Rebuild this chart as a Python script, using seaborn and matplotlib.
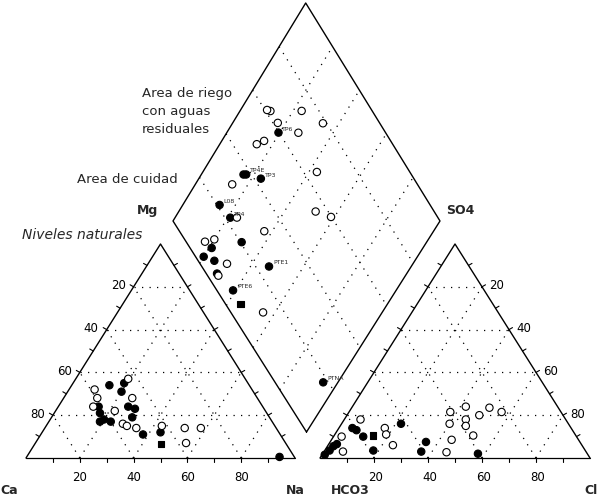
import numpy as np
import pandas as pd
import matplotlib
matplotlib.use("Agg")
import matplotlib.pyplot as plt
import seaborn as sns

# ==========================================
# DATA (percentages)
# ==========================================

# cation triangle: Na %, Mg %
cat_kind = ["filled"] * 14 + ["square"] + ["open"] * 13
cat_na = [14, 19, 20, 26, 29, 30, 17, 19, 20, 23, 38, 44, 94, 15,
          47,
          9.5, 19.5, 25.5, 22, 28, 30, 34, 13, 12.5, 52, 58, 56, 43]
cat_mg = [34, 35, 31, 24, 23, 19, 21, 17, 18, 17, 11, 12, 0.5, 24,
          6.5,
          32, 37, 28, 22, 16, 15, 14, 24, 28, 14, 14, 7, 15]

# anion triangle: Cl %, SO4 %
ani_kind = ["filled"] * 12 + ["square"] + ["open"] * 17
ani_cl = [5, 7, 11, 22, 18, 35.5, 36, 57.5, 1, 1.8, 2.2, 3,
          14.5,
          6, 3, 7, 17, 19, 24, 37.5, 42, 45, 46.5, 49, 51, 56.5, 40, 44.5, 51.5, 45.5]
ani_so4 = [14, 13, 10, 16, 3.5, 7.5, 3, 2, 1.5, 3.5, 5.5, 6.5,
           10.4,
           18, 10, 3, 14, 11, 6, 21.5, 24, 18, 15, 20, 23.5, 21.5, 16, 8.5, 10.5, 2.7]

# diamond: Na %, SO4+Cl %
dia_kind = ["filled"] * 14 + ["square"] + ["open"] * 19
dia_na = [19.5, 16, 17, 23.5, 14, 21, 31, 21, 20, 25, 29, 47, 39, 94.5,
          45,
          11.5, 10, 23.2, 17, 27, 34, 16, 14, 43, 14, 23.5, 51.7, 58.7, 37, 17, 20, 30.5, 30, 55.5]
dia_an = [59.8, 37, 38, 42.5, 21, 22, 20.5, 8, 3, 6, 4, 25, 6, 18,
          5.5,
          61.8, 60.8, 73.5, 61.8, 67.2, 78.6, 52.5, 49, 65, 30.5, 24.5, 55.3, 59.8, 31.5, 7, 11, 10, 4, 12]
dia_lab = ["TP6", "", "TP4E", "TP3", "L08", "TP4", "", "", "", "", "", "PTE1", "PTE6", "PTNA",
           ""] + [""] * 19

ticks = [20, 40, 60, 80]

# ==========================================
# GEOMETRY (pixel frame of the page)
# ==========================================

CA, NA, MG = np.array([26, 459]), np.array([295, 459]), np.array([160.5, 245])
HC, CL, SO = np.array([320, 459]), np.array([590, 459]), np.array([455, 245])
DB, DL, DR, DT = (np.array([306.5, 433]), np.array([173, 222]),
                  np.array([440, 222]), np.array([305.7, 4]))


def tri(c0, c1, c2, p1, p2):
    p1 = np.asarray(p1, float) / 100
    p2 = np.asarray(p2, float) / 100
    pts = c0 + np.outer(p1, c1 - c0) + np.outer(p2, c2 - c0)
    return pts[:, 0], pts[:, 1]


def dia(na, an):
    a = 1 - np.asarray(na, float) / 100
    b = np.asarray(an, float) / 100
    pts = (np.outer((1 - a) * (1 - b), DB) + np.outer(a * (1 - b), DL)
           + np.outer((1 - a) * b, DR) + np.outer(a * b, DT))
    return pts[:, 0], pts[:, 1]


sns.set_theme(style="white")
plt.rcParams["font.family"] = ["DejaVu Sans"]

fig = plt.figure(figsize=(6.05, 5.02), dpi=100)
ax = fig.add_axes([0, 0, 1, 1])
ax.set_xlim(0, 605)
ax.set_ylim(502, 0)
ax.axis("off")

dot = dict(color="black", lw=0.9, ls=(0, (1, 5)), zorder=1)
solid = dict(color="black", lw=1.0, zorder=2)

# outlines
for c0, c1, c2 in [(CA, NA, MG), (HC, CL, SO)]:
    ax.plot([c0[0], c2[0], c1[0]], [c0[1], c2[1], c1[1]], **solid)
    ax.plot([c0[0], c1[0]], [c0[1], c1[1]], color="black", lw=0.9, zorder=2)
    for k in ticks:
        x, y = tri(c0, c1, c2, [k, k], [0, 100 - k])
        ax.plot(x, y, **dot)
        x, y = tri(c0, c1, c2, [0, 100 - k], [k, k])
        ax.plot(x, y, **dot)
        x, y = tri(c0, c1, c2, [100 - k, 0], [0, 100 - k])
        ax.plot(x, y, **dot)
    # small ticks every 10 %
    for k in range(10, 100, 10):
        for p, q, d in [([k], [0], (0, 4)),
                        ([0], [k], (-3.5, -2)),
                        ([100 - k], [k], (3.5, -2))]:
            x, y = tri(c0, c1, c2, p, q)
            ax.plot([x[0], x[0] + d[0]], [y[0], y[0] + d[1]], color="black", lw=0.8)

ax.plot([DB[0], DL[0], DT[0], DR[0], DB[0]], [DB[1], DL[1], DT[1], DR[1], DB[1]], **solid)
for k in ticks:
    x, y = dia([100 - k, 100 - k], [0, 100])
    ax.plot(x, y, **dot)
    x, y = dia([0, 100], [k, k])
    ax.plot(x, y, **dot)

# ==========================================
# POINTS
# ==========================================

x1, y1 = tri(CA, NA, MG, cat_na, cat_mg)
x2, y2 = tri(HC, CL, SO, ani_cl, ani_so4)
x3, y3 = dia(dia_na, dia_an)
pts = pd.concat([
    pd.DataFrame({"x": x1, "y": y1, "kind": cat_kind}),
    pd.DataFrame({"x": x2, "y": y2, "kind": ani_kind}),
    pd.DataFrame({"x": x3, "y": y3, "kind": dia_kind}),
], ignore_index=True)

pal = {"filled": "black", "open": "white", "square": "black"}
mk = {"filled": "o", "open": "o", "square": "s"}
sz = {"filled": 28, "open": 28, "square": 22}
sns.scatterplot(data=pts, x="x", y="y", hue="kind", style="kind", size="kind",
                palette=pal, markers=mk, sizes=sz, edgecolor="black",
                linewidth=0.8, legend=False, ax=ax, zorder=3)

for xx, yy, lab in zip(x3, y3, dia_lab):
    if lab:
        ax.text(xx + 4, yy - 2, lab, fontsize=4.5, ha="left", va="bottom")

# ==========================================
# TEXT
# ==========================================

tk = dict(fontsize=8.5, color="black")
for k in ticks:
    x, y = tri(CA, NA, MG, [k], [0])
    ax.text(x[0], 478, str(k), ha="center", va="center", **tk)
    x, y = tri(HC, CL, SO, [k], [0])
    ax.text(x[0] + 2, 478, str(k), ha="center", va="center", **tk)
    x, y = tri(CA, NA, MG, [0], [100 - k])
    ax.text(x[0] - 8, y[0] - 2, str(k), ha="right", va="center", **tk)
    x, y = tri(HC, CL, SO, [k], [100 - k])
    ax.text(x[0] + 7, y[0] - 2, str(k), ha="left", va="center", **tk)

bold = dict(fontsize=9, fontweight="bold")
ax.text(0, 491, "Ca", ha="left", va="center", **bold)
ax.text(305, 491, "Na", ha="right", va="center", **bold)
ax.text(331, 491, "HCO3", ha="left", va="center", **bold)
ax.text(584, 491, "Cl", ha="left", va="center", **bold)
ax.text(158, 211, "Mg", ha="right", va="center", **bold)
ax.text(446, 211, "SO4", ha="left", va="center", **bold)

note = dict(fontsize=9.5, ha="left", va="center")
ax.text(142, 93, "Area de riego", **note)
ax.text(142, 112, "con aguas", **note)
ax.text(142, 130, "residuales", **note)
ax.text(77, 180, "Area de cuidad", **note)
ax.text(22, 235, "Niveles naturales", style="italic", fontsize=10, ha="left", va="center")

plt.savefig("out.png", dpi=100)
